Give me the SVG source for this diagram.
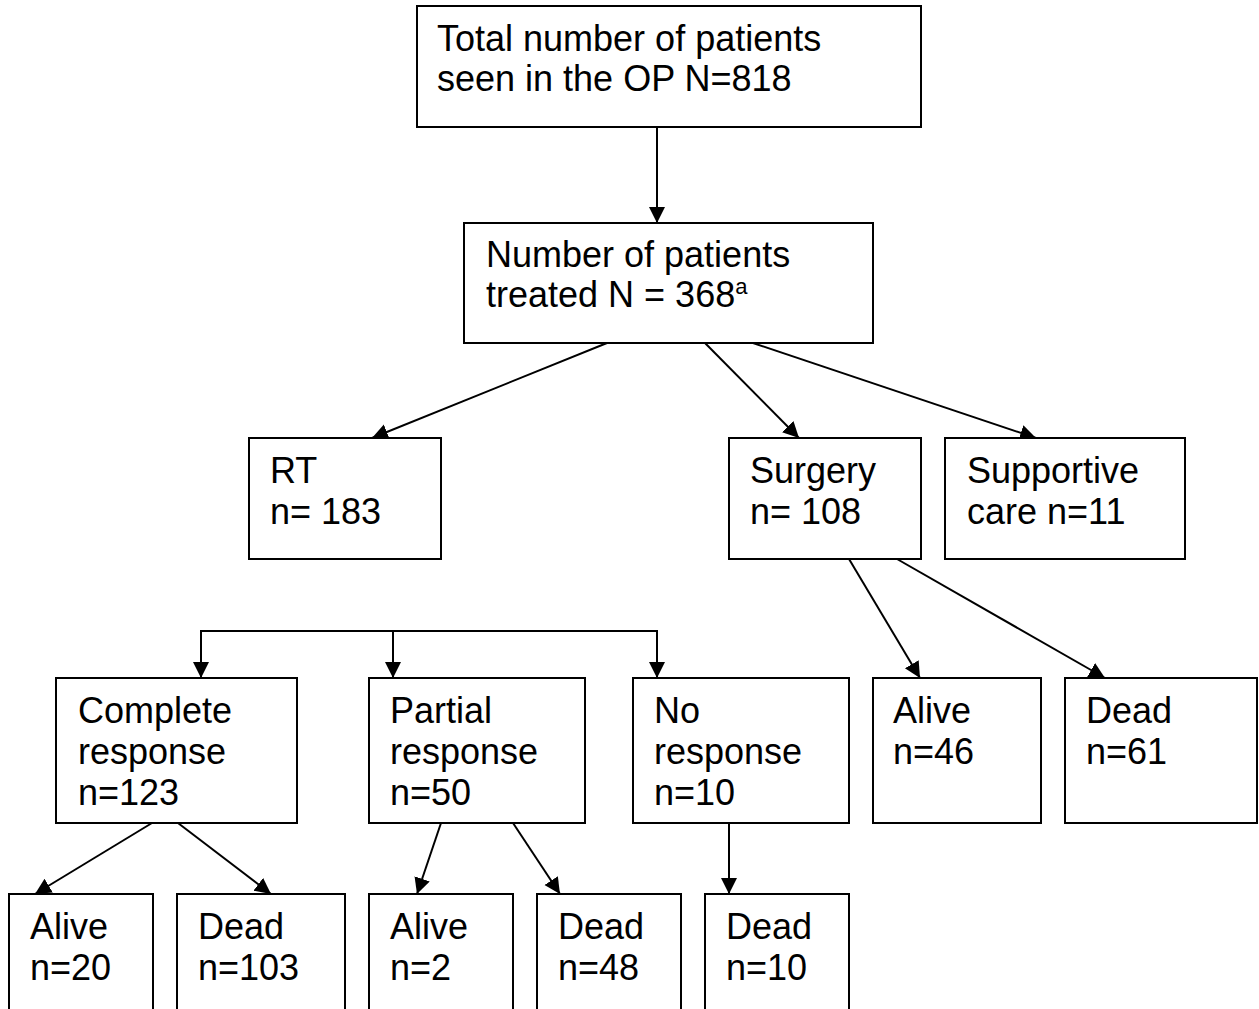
<svg xmlns="http://www.w3.org/2000/svg" width="1259" height="1009" viewBox="0 0 1259 1009">
<defs>
<marker id="arr" markerUnits="userSpaceOnUse" markerWidth="18" markerHeight="18" refX="16" refY="8" orient="auto">
<path d="M0,0 L16,8 L0,16 z" fill="#000"/>
</marker>
<style>
.box{fill:#fff;stroke:#000;stroke-width:2}
.t{font-family:"Liberation Sans",Arial,sans-serif;font-size:36px;fill:#000}
.c{fill:none;stroke:#000;stroke-width:2}
.a{marker-end:url(#arr)}
</style>
</defs>
<rect width="1259" height="1009" fill="#fff"/>
<g id="connectors">
<line class="c a" x1="657" y1="127" x2="657" y2="223"/>
<line class="c a" x1="607" y1="343" x2="372" y2="438"/>
<line class="c a" x1="705" y1="343" x2="799" y2="438"/>
<line class="c a" x1="753" y1="343" x2="1036" y2="438"/>
<line class="c a" x1="849" y1="559" x2="920" y2="678"/>
<line class="c a" x1="897" y1="559" x2="1105" y2="678"/>
<line class="c" x1="201" y1="631" x2="657" y2="631"/>
<line class="c a" x1="201" y1="630" x2="201" y2="678"/>
<line class="c a" x1="393" y1="630" x2="393" y2="678"/>
<line class="c a" x1="657" y1="630" x2="657" y2="678"/>
<line class="c a" x1="152" y1="823" x2="35" y2="894"/>
<line class="c a" x1="178" y1="823" x2="271" y2="894"/>
<line class="c a" x1="441" y1="823" x2="417" y2="894"/>
<line class="c a" x1="513" y1="823" x2="560" y2="894"/>
<line class="c a" x1="729" y1="823" x2="729" y2="894"/>
</g>
<g id="total">
<rect class="box" x="417" y="6" width="504" height="121"/>
<text class="t" x="437" y="51">Total number of patients</text>
<text class="t" x="437" y="91">seen in the OP N=818</text>
</g>
<g id="treated">
<rect class="box" x="464" y="223" width="409" height="120"/>
<text class="t" x="486" y="267">Number of patients</text>
<text class="t" x="486" y="307">treated N = 368<tspan font-size="22" dy="-13">a</tspan></text>
</g>
<g id="rt">
<rect class="box" x="249" y="438" width="192" height="121"/>
<text class="t" x="270" y="483">RT</text>
<text class="t" x="270" y="524">n= 183</text>
</g>
<g id="surgery">
<rect class="box" x="729" y="438" width="192" height="121"/>
<text class="t" x="750" y="483">Surgery</text>
<text class="t" x="750" y="524">n= 108</text>
</g>
<g id="supportive">
<rect class="box" x="945" y="438" width="240" height="121"/>
<text class="t" x="967" y="483">Supportive</text>
<text class="t" x="967" y="524">care n=11</text>
</g>
<g id="complete">
<rect class="box" x="56" y="678" width="241" height="145"/>
<text class="t" x="78" y="723">Complete</text>
<text class="t" x="78" y="764">response</text>
<text class="t" x="78" y="805">n=123</text>
</g>
<g id="partial">
<rect class="box" x="369" y="678" width="216" height="145"/>
<text class="t" x="390" y="723">Partial</text>
<text class="t" x="390" y="764">response</text>
<text class="t" x="390" y="805">n=50</text>
</g>
<g id="noresponse">
<rect class="box" x="633" y="678" width="216" height="145"/>
<text class="t" x="654" y="723">No</text>
<text class="t" x="654" y="764">response</text>
<text class="t" x="654" y="805">n=10</text>
</g>
<g id="surg-alive">
<rect class="box" x="873" y="678" width="168" height="145"/>
<text class="t" x="893" y="723">Alive</text>
<text class="t" x="893" y="764">n=46</text>
</g>
<g id="surg-dead">
<rect class="box" x="1065" y="678" width="192" height="145"/>
<text class="t" x="1086" y="723">Dead</text>
<text class="t" x="1086" y="764">n=61</text>
</g>
<g id="cr-alive">
<rect class="box" x="9" y="894" width="144" height="140"/>
<text class="t" x="30" y="939">Alive</text>
<text class="t" x="30" y="980">n=20</text>
</g>
<g id="cr-dead">
<rect class="box" x="177" y="894" width="168" height="140"/>
<text class="t" x="198" y="939">Dead</text>
<text class="t" x="198" y="980">n=103</text>
</g>
<g id="pr-alive">
<rect class="box" x="369" y="894" width="144" height="140"/>
<text class="t" x="390" y="939">Alive</text>
<text class="t" x="390" y="980">n=2</text>
</g>
<g id="pr-dead">
<rect class="box" x="537" y="894" width="144" height="140"/>
<text class="t" x="558" y="939">Dead</text>
<text class="t" x="558" y="980">n=48</text>
</g>
<g id="nr-dead">
<rect class="box" x="705" y="894" width="144" height="140"/>
<text class="t" x="726" y="939">Dead</text>
<text class="t" x="726" y="980">n=10</text>
</g>
</svg>
